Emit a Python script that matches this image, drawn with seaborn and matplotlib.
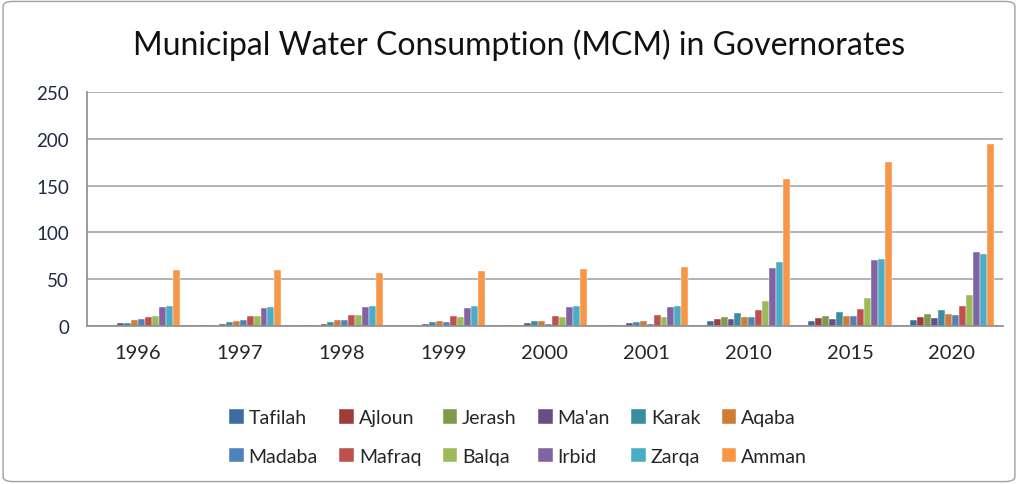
import numpy as np
import pandas as pd
import seaborn as sns
import matplotlib.pyplot as plt
from matplotlib.patches import FancyBboxPatch

# data (MCM)
years = ["1996", "1997", "1998", "1999", "2000", "2001", "2010", "2015", "2020"]
governorates = ["Tafilah", "Ajloun", "Jerash", "Ma'an", "Karak", "Aqaba",
                "Madaba", "Mafraq", "Balqa", "Irbid", "Zarqa", "Amman"]

tafilah = [1, 1, 1, 0.5, 0.5, 0.5, 5, 5.5, 6.5]
ajloun = [1, 1, 1, 0.5, 0.5, 0.5, 7.5, 8.5, 10]
jerash = [1, 1, 1, 0.5, 1, 0.5, 9.5, 10.5, 12.5]
maan = [3, 2.5, 2, 2.5, 3, 3, 7, 7.5, 8.5]
karak = [3, 4, 4, 4, 5, 4.5, 13.5, 14.5, 16.5]
aqaba = [6, 5.5, 6, 5.5, 5, 5, 9.5, 10.5, 12.5]
madaba = [7, 6, 6, 4, 2, 2, 9.5, 11, 11.5]
mafraq = [10, 11, 11.5, 11, 11, 11.5, 16.5, 18, 21]
balqa = [11, 11, 11.5, 10, 9.5, 9, 27, 30, 33]
irbid = [20, 19, 20, 19.5, 20, 20, 62, 70, 79]
zarqa = [21.5, 20.5, 21, 21, 21, 21, 68, 72, 77]
amman = [60, 60, 57, 59, 61, 63, 157, 175, 194]

series = [tafilah, ajloun, jerash, maan, karak, aqaba,
          madaba, mafraq, balqa, irbid, zarqa, amman]

colors = ["#3D6CA3", "#9E3C3A", "#7F9A48", "#664F88", "#3A8CA2", "#D07C35",
          "#4F81BD", "#C0504D", "#9BBB59", "#8064A2", "#4BACC6", "#F79646"]

rows = []
for gov, vals in zip(governorates, series):
    for yr, v in zip(years, vals):
        rows.append({"year": yr, "gov": gov, "value": v})
df = pd.DataFrame(rows)

sns.set_style("white")
plt.rcParams['font.family'] = ['Lato', 'DejaVu Sans']

fig = plt.figure(figsize=(10.18, 4.85), dpi=100)
ax = fig.add_axes([0.0855, 0.326, 0.8995, 0.482])

sns.barplot(data=df, x="year", y="value", hue="gov", hue_order=governorates,
            order=years, palette=colors, width=0.82, saturation=1,
            edgecolor="white", linewidth=0.3, ax=ax)

ax.set_ylim(0, 250)
ax.set_xlim(-0.5, len(years) - 0.5)
ax.set_yticks(range(0, 251, 50))
ax.yaxis.grid(True, color="#A6A6A6", linewidth=1.2)
ax.set_axisbelow(True)
ax.set_xlabel("")
ax.set_ylabel("")
for s in ["top", "right"]:
    ax.spines[s].set_visible(False)
for s in ["left", "bottom"]:
    ax.spines[s].set_color("#8C8C8C")
    ax.spines[s].set_linewidth(1.2)

ax.tick_params(axis="y", length=5, color="#8C8C8C", labelsize=13.5, labelcolor="#1F2A44", pad=8)
ax.tick_params(axis="x", which="major", length=0, labelsize=14.5, pad=13)
ax.set_xticks(np.arange(-0.5, len(years), 1), minor=True)
ax.tick_params(axis="x", which="minor", length=8, color="#8C8C8C", width=1.2)

fig.text(0.51, 0.907, "Municipal Water Consumption (MCM) in Governorates",
         ha="center", va="center", fontsize=23, color="#111111")

# legend laid out row by row like the original
handles, labels = ax.get_legend_handles_labels()
ax.get_legend().remove()
idx = [0, 6, 1, 7, 2, 8, 3, 9, 4, 10, 5, 11]
fig.legend([handles[i] for i in idx], [labels[i] for i in idx],
           loc="center", bbox_to_anchor=(0.509, 0.097), ncol=6, frameon=False,
           fontsize=14, handlelength=0.75, handleheight=0.75, handletextpad=0.25,
           columnspacing=1.1, labelspacing=1.1)

frame = FancyBboxPatch((0.003, 0.005), 0.994, 0.99, boxstyle="round,pad=0,rounding_size=0.01",
                       transform=fig.transFigure, fill=False, edgecolor="#A0A0A0", linewidth=1)
fig.patches.append(frame)

fig.savefig("out.png", dpi=100)
